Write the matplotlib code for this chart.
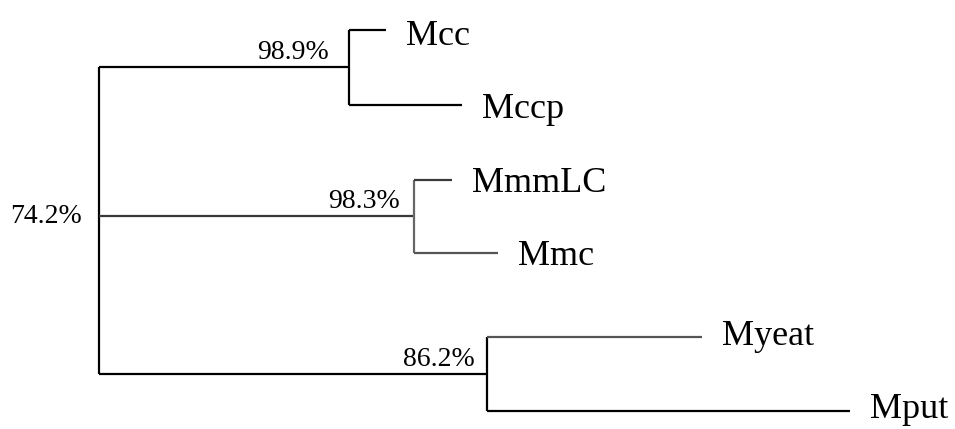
import matplotlib
matplotlib.use("Agg")
import matplotlib.pyplot as plt

# ---- tree data ----
leaf_names = ["Mcc", "Mccp", "MmmLC", "Mmc", "Myeat", "Mput"]
leaf_depth = [287, 363, 353, 399, 603, 751]      # distance of each leaf from root
leaf_row = [30, 105, 180, 253, 337, 411]          # vertical order position of each leaf
clade_leaves = [[0, 1], [2, 3], [4, 5]]
clade_depth = [250, 315, 388]                     # depth of each internal node
clade_row = [67, 216, 374]                        # vertical position of each internal node
clade_support = ["98.9%", "98.3%", "86.2%"]
root_support = "74.2%"

# ---- styles ----
clade_colors = [["#000000", "#000000"], ["#3a3a3a", "#555555"], ["#555555", "#000000"]]
clade_stem_colors = ["#000000", "#3a3a3a", "#000000"]
clade_vert_colors = ["#000000", "#666666", "#000000"]
label_baseline_shift = [15, 13, 12, 12, 8, 7]
support_dx = [20, 14, 12]

fig = plt.figure(figsize=(9.55, 4.29), dpi=100)
ax = fig.add_axes([0, 0, 1, 1])
ax.set_xlim(-99, 856)
ax.set_ylim(429, 0)
ax.axis("off")

lw = 1.6
serif = ["Liberation Serif", "DejaVu Serif"]
leaf_fs = 26
pct_fs = 20

# root vertical
ax.plot([0, 0], [clade_row[0], clade_row[-1]], color="black", lw=lw, solid_capstyle="butt")
ax.text(-17, clade_row[1] + 7, root_support, ha="right", va="baseline", fontsize=pct_fs, family=serif)

for ci, leaves in enumerate(clade_leaves):
    d = clade_depth[ci]
    r = clade_row[ci]
    # stem from root
    ax.plot([0, d], [r, r], color=clade_stem_colors[ci], lw=lw, solid_capstyle="butt")
    # vertical at node
    rows = [leaf_row[i] for i in leaves]
    ax.plot([d, d], [min(rows), max(rows)], color=clade_vert_colors[ci], lw=lw, solid_capstyle="butt")
    ax.text(d - support_dx[ci], r - 8, clade_support[ci], ha="right", va="baseline",
            fontsize=pct_fs, family=serif)
    for k, li in enumerate(leaves):
        ax.plot([d, leaf_depth[li]], [leaf_row[li], leaf_row[li]], color=clade_colors[ci][k],
                lw=lw, solid_capstyle="butt")
        ax.text(leaf_depth[li] + 20, leaf_row[li] + label_baseline_shift[li], leaf_names[li],
                ha="left", va="baseline", fontsize=leaf_fs, family=serif)

fig.savefig("out.png", dpi=100)
